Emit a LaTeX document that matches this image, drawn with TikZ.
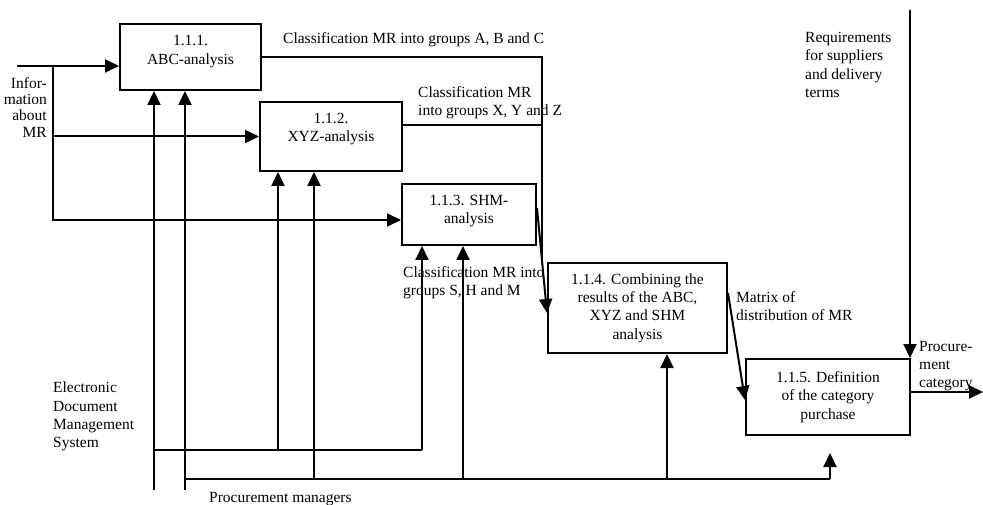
\documentclass[tikz,border=0pt]{standalone}
\usepackage{fontspec}
\setmainfont{Liberation Serif}
\usetikzlibrary{arrows.meta}
\begin{document}
\begin{tikzpicture}[x=1pt,y=-1pt,
  every node/.style={font=\fontsize{15.5}{18.3}\selectfont},
  box/.style={draw,line width=2pt,align=center,inner sep=0pt},
  wire/.style={line width=2pt},
  arr/.style={line width=2pt,-{Triangle[length=14pt,width=13pt]}},
  txt/.style={inner sep=0pt,anchor=north west,align=left}]
\useasboundingbox (0,0) rectangle (983,505);

% function blocks
\node[box,minimum width=141pt,minimum height=66pt] (b1) at (190.5,57)
  {1.1.1.\\ABC-analysis\rule[-14pt]{0pt}{0pt}};
\node[box,minimum width=142pt,minimum height=69pt] (b2) at (331,136.5)
  {1.1.2.\\XYZ-analysis\rule[-18pt]{0pt}{0pt}};
\node[box,minimum width=134pt,minimum height=61pt] (b3) at (469,214.5)
  {1.1.3. SHM-\\analysis\rule[-10pt]{0pt}{0pt}};
\node[box,minimum width=179pt,minimum height=90pt] (b4) at (637.5,308)
  {1.1.4. Combining the\\results of the ABC,\\XYZ and SHM\\analysis};
\node[box,minimum width=164pt,minimum height=76pt] (b5) at (828,397)
  {1.1.5. Definition\\of the category\\purchase};

% labels
\node[txt] (tabc) at (283,32) {Classification MR into groups A, B and C};
\node[txt] (txyz) at (418,86) {Classification MR\\into groups X, Y and Z};
\node[txt] (tshm) at (403,266) {Classification MR into\\groups S, H and M};
\node[txt] (tmat) at (736,291) {Matrix of\\distribution of MR};
\node[txt] (treq) at (805,32) {Requirements\\for suppliers\\and delivery\\terms};
\node[txt] (tout) at (919,341) {Procure-\\ment\\category};
\node[inner sep=0pt,anchor=north east,align=right,
  font=\fontsize{15.5}{16.4}\selectfont] (tinf) at (47,77) {Infor-\\mation\\about\\MR};
\node[txt] (tedm) at (53,382) {Electronic\\Document\\Management\\System};
\node[txt] (tpm) at (209,492) {Procurement managers};

% inputs
\coordinate (inL) at (17,66);
\coordinate (j1) at (53,66);
\draw[arr] (inL) -- (b1.west |- inL);
\draw[arr] (j1 |- b2.west) -- (b2.west);
\draw[arr] (j1) |- ([yshift=-5.5pt]b3.west);

% outputs of the analyses
\coordinate (abcT) at (542,57);
\coordinate (abcB) at (542,261);
\coordinate (in4) at ([yshift=-5pt]b4.west);
\coordinate (xyzO) at ([yshift=11.5pt]b2.east);
\draw[wire] (b1.east) -- (abcT) -- (abcB);
\draw[wire] (xyzO) -- (abcT |- xyzO);
\draw[arr] ([yshift=6.5pt]b3.east) -- (in4);
\draw[arr] ([yshift=15pt]b4.east) -- ([yshift=-3pt]b5.west);

% control and output of the last block
\coordinate (reqT) at (910,10);
\coordinate (outR) at (983,392);
\draw[arr] (reqT) -- ([xshift=-1pt]b5.north east);
\draw[arr] (b5.east |- outR) -- (outR);

% mechanism: electronic document management system
\coordinate (eB) at (154,490);
\coordinate (eH) at (154,450);
\coordinate (eE) at (422,450);
\draw[arr] (eB) -- (eB |- b1.south);
\draw[wire] (eH) -- (eE);
\draw[arr] ([xshift=-53pt]b2.south |- eH) -- ([xshift=-53pt]b2.south);
\draw[arr] (eE) -- ([xshift=-47pt]b3.south);

% mechanism: procurement managers
\coordinate (pB) at (185,490);
\coordinate (pH) at (185,479);
\coordinate (pE) at (830,479);
\draw[arr] (pB) -- (pB |- b1.south);
\draw[wire] (pH) -- (pE);
\draw[arr] ([xshift=-17pt]b2.south |- pH) -- ([xshift=-17pt]b2.south);
\draw[arr] ([xshift=-6pt]b3.south |- pH) -- ([xshift=-6pt]b3.south);
\draw[arr] ([xshift=29.5pt]b4.south |- pH) -- ([xshift=29.5pt]b4.south);
\draw[arr] (pE) -- ([xshift=2pt,yshift=-17pt]b5.south);
\end{tikzpicture}
\end{document}
